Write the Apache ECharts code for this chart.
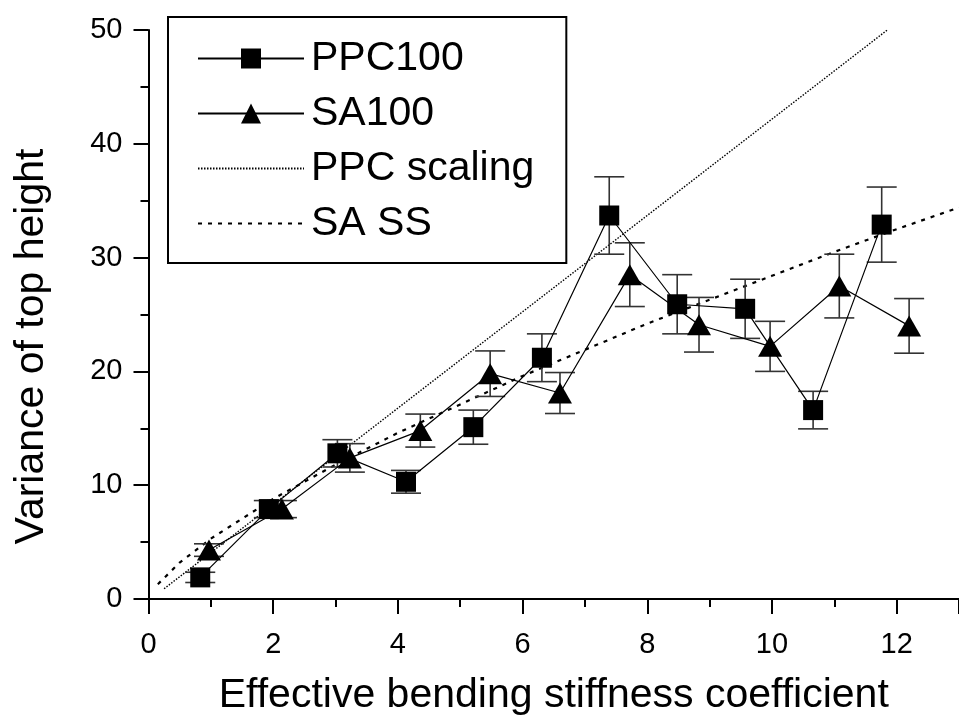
<!DOCTYPE html>
<html>
<head>
<meta charset="utf-8">
<script src="https://cdn.jsdelivr.net/npm/echarts@6/dist/echarts.min.js"></script>
<style>html,body{margin:0;padding:0;background:#fff;}#c{width:959px;height:721px;}</style>
</head>
<body>
<div id="c"></div>
<script>
// ---- data ----
const ppcX   = [0.83, 1.93, 3.03, 4.13, 5.21, 6.31, 7.39, 8.48, 9.57, 10.66, 11.76];
const ppcY   = [1.9, 7.9, 12.8, 10.3, 15.1, 21.2, 33.7, 25.9, 25.5, 16.6, 32.9];
const ppcErr = [0.45, 0.75, 1.2, 1.0, 1.5, 2.1, 3.4, 2.6, 2.6, 1.65, 3.3];

const saX    = [0.97, 2.14, 3.23, 4.36, 5.48, 6.6, 7.72, 8.83, 9.97, 11.08, 12.2];
const saY    = [4.3, 7.9, 12.4, 14.8, 19.8, 18.1, 28.5, 24.1, 22.2, 27.5, 24.0];
const saErr  = [0.55, 0.75, 1.25, 1.45, 2.0, 1.8, 2.8, 2.4, 2.2, 2.8, 2.4];

const ppcScaleX = [0.25, 11.85];
const ppcScaleY = [0.9, 50];

const saSSX = [0.15, 0.5, 1, 2, 3, 4, 5, 6, 7, 8, 9, 10, 11, 12, 13];
const saSSY = [1.3, 3.2, 5.3, 8.8, 11.8, 14.6, 17.1, 19.6, 21.9, 24.2, 26.3, 28.4, 30.5, 32.5, 34.4];

const xTicks = [0, 2, 4, 6, 8, 10, 12];
const yTicks = [0, 10, 20, 30, 40, 50];

const FONT = 'Liberation Sans, Arial, sans-serif';

const zip = (a, b) => a.map((v, i) => [v, b[i]]);
const errData = (xs, ys, es) => xs.map((v, i) => [v, ys[i] - es[i], ys[i] + es[i]]);

function errRender(params, api) {
  const x = api.value(0), lo = api.value(1), hi = api.value(2);
  const pLo = api.coord([x, lo]);
  const pHi = api.coord([x, hi]);
  const hw = 15;
  const st = { stroke: '#333', lineWidth: 1.6 };
  return {
    type: 'group',
    children: [
      { type: 'line', shape: { x1: pLo[0], y1: pLo[1], x2: pHi[0], y2: pHi[1] }, style: st },
      { type: 'line', shape: { x1: pLo[0] - hw, y1: pLo[1], x2: pLo[0] + hw, y2: pLo[1] }, style: st },
      { type: 'line', shape: { x1: pHi[0] - hw, y1: pHi[1], x2: pHi[0] + hw, y2: pHi[1] }, style: st }
    ]
  };
}

const axisCommon = {
  type: 'value',
  axisLine: { show: true, onZero: false, lineStyle: { color: '#000', width: 2 } },
  axisTick: { show: true, inside: false, length: 15, lineStyle: { color: '#000', width: 2 } },
  minorTick: { show: true, splitNumber: 2, length: 8, lineStyle: { color: '#000', width: 2 } },
  splitLine: { show: false },
  minorSplitLine: { show: false },
  nameLocation: 'middle'
};

const hiddenSym = { color: 'rgba(0,0,0,0)', borderWidth: 0, opacity: 0 };

const chart = echarts.init(document.getElementById('c'), null, { renderer: 'canvas' });
chart.setOption({
  animation: false,
  backgroundColor: '#fff',
  grid: { left: 148.5, top: 30, right: -6, bottom: 118.5, containLabel: false },
  xAxis: Object.assign({}, axisCommon, {
    min: xTicks[0], max: 13, interval: 2,
    name: 'Effective bending stiffness coefficient',
    nameGap: 76,
    nameTextStyle: { fontSize: 41, color: '#000', fontFamily: FONT },
    axisLabel: { fontSize: 29, color: '#000', fontFamily: FONT, margin: 31, showMaxLabel: false }
  }),
  yAxis: Object.assign({}, axisCommon, {
    min: yTicks[0], max: yTicks[yTicks.length - 1], interval: 10,
    name: 'Variance of top height',
    nameGap: 96,
    nameTextStyle: { fontSize: 41, color: '#000', fontFamily: FONT, padding: [0, 64, 0, 0] },
    axisLabel: { fontSize: 29, color: '#000', fontFamily: FONT, margin: 26 }
  }),
  legend: {
    show: true,
    orient: 'vertical',
    left: 168, top: 17,
    padding: [21, 32, 19, 29],
    borderColor: '#000', borderWidth: 2,
    itemWidth: 106, itemHeight: 25, itemGap: 14,
    textStyle: { fontSize: 41, lineHeight: 41, color: '#000', fontFamily: FONT, padding: [0, 0, 0, 2] },
    data: [
      { name: 'PPC100' },
      { name: 'SA100' },
      { name: 'PPC scaling', itemStyle: hiddenSym },
      { name: 'SA SS', itemStyle: hiddenSym }
    ],
    selectedMode: false
  },
  series: [
    {
      name: 'PPC scaling', type: 'line', data: zip(ppcScaleX, ppcScaleY),
      symbol: 'none', z: 1,
      lineStyle: { color: '#000', width: 1.4, type: [1.5, 1.5] },
      itemStyle: { color: '#000' }
    },
    {
      name: 'SA SS', type: 'line', data: zip(saSSX, saSSY),
      symbol: 'none', smooth: false, z: 1,
      lineStyle: { color: '#000', width: 2.2, type: [4, 6] },
      itemStyle: { color: '#000' }
    },
    {
      name: 'ppcErr', type: 'custom', renderItem: errRender,
      data: errData(ppcX, ppcY, ppcErr), encode: { x: 0, y: [1, 2] }, z: 2, silent: true
    },
    {
      name: 'saErr', type: 'custom', renderItem: errRender,
      data: errData(saX, saY, saErr), encode: { x: 0, y: [1, 2] }, z: 2, silent: true
    },
    {
      name: 'PPC100', type: 'line', data: zip(ppcX, ppcY),
      symbol: 'rect', symbolSize: 20, showAllSymbol: true, z: 3,
      lineStyle: { color: '#000', width: 1.2 },
      itemStyle: { color: '#000' }
    },
    {
      name: 'SA100', type: 'line', data: zip(saX, saY),
      symbol: 'triangle', symbolSize: [24, 21], showAllSymbol: true, z: 3,
      lineStyle: { color: '#000', width: 1.2 },
      itemStyle: { color: '#000' }
    }
  ]
});
</script>
</body>
</html>
